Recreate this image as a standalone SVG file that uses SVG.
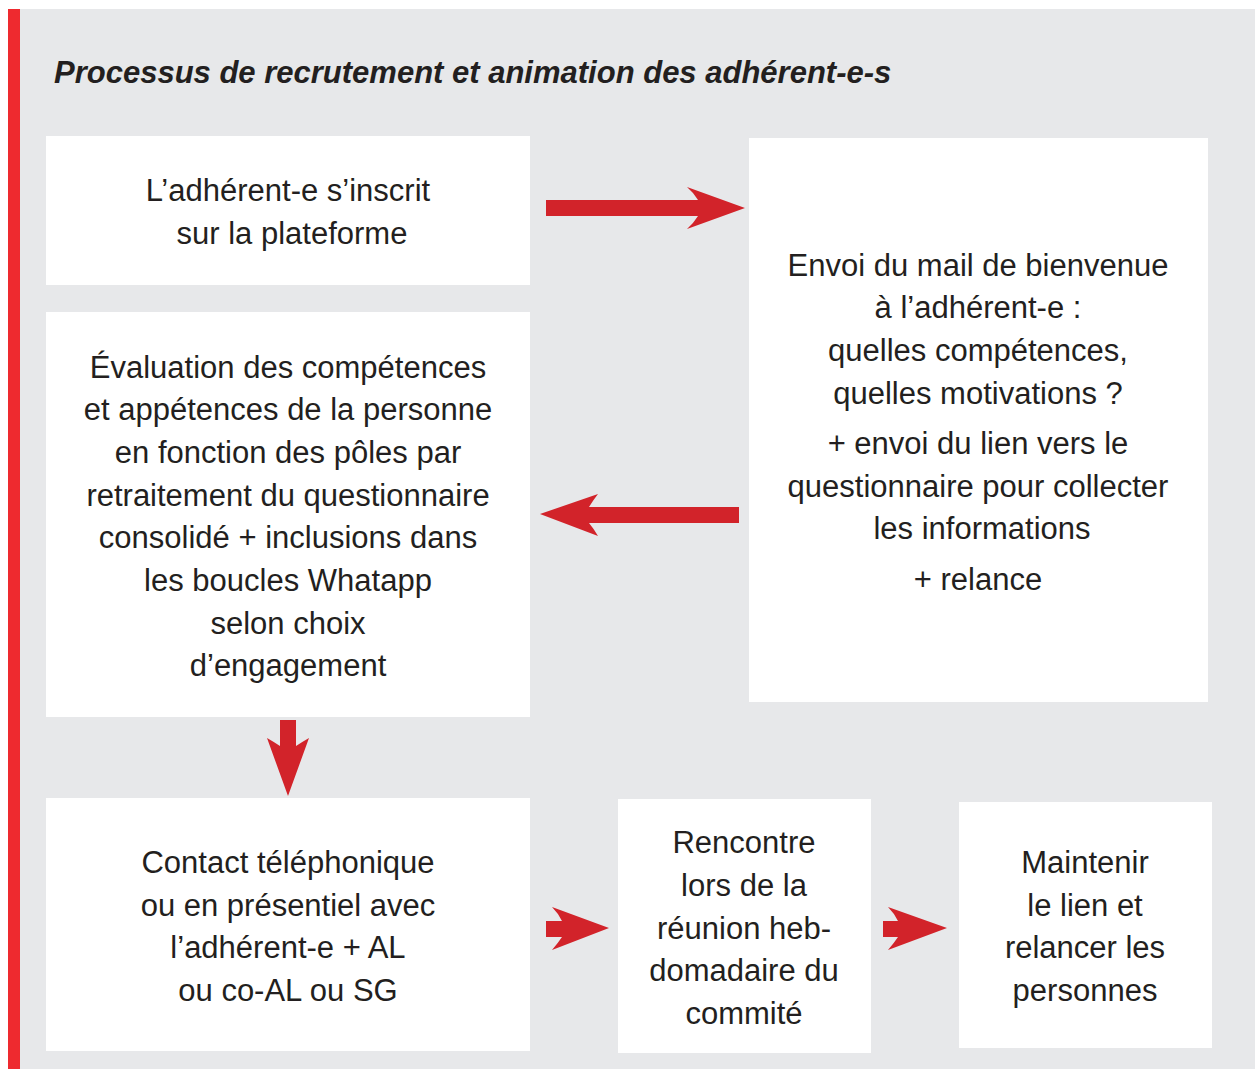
<svg xmlns="http://www.w3.org/2000/svg" width="1255" height="1069" viewBox="0 0 1255 1069">
<style>
.box{fill:#ffffff}
.t{font-family:"Liberation Sans",Arial,sans-serif;font-size:31px;fill:#231f20;text-anchor:middle}
.ttl{font-family:"Liberation Sans",Arial,sans-serif;font-size:31px;font-weight:bold;font-style:italic;fill:#231f20}
.arr{fill:#d2232a}
</style>
<rect x="8" y="9" width="1247" height="1060" fill="#e7e8ea"/>
<rect x="8" y="9" width="12" height="1060" fill="#ee2a2f"/>
<text class="ttl" x="54" y="83">Processus de recrutement et animation des adhérent-e-s</text>
<g id="n1">
<rect class="box" x="46" y="136" width="484" height="149"/>
<text class="t"><tspan x="288" y="201">L’adhérent-e s’inscrit</tspan><tspan x="292" y="244">sur la plateforme</tspan></text>
</g>
<g id="n2">
<rect class="box" x="749" y="138" width="459" height="564"/>
<text class="t"><tspan x="978" y="276">Envoi du mail de bienvenue</tspan><tspan x="978" y="318">à l’adhérent-e :</tspan><tspan x="978" y="361">quelles compétences,</tspan><tspan x="978" y="404">quelles motivations ?</tspan><tspan x="978" y="454">+ envoi du lien vers le</tspan><tspan x="978" y="497">questionnaire pour collecter</tspan><tspan x="982" y="539">les informations</tspan><tspan x="978" y="590">+ relance</tspan></text>
</g>
<g id="n3">
<rect class="box" x="46" y="312" width="484" height="405"/>
<text class="t"><tspan x="288" y="378">Évaluation des compétences</tspan><tspan x="288" y="420">et appétences de la personne</tspan><tspan x="288" y="463">en fonction des pôles par</tspan><tspan x="288" y="506">retraitement du questionnaire</tspan><tspan x="288" y="548">consolidé + inclusions dans</tspan><tspan x="288" y="591">les boucles Whatapp</tspan><tspan x="288" y="634">selon choix</tspan><tspan x="288" y="676">d’engagement</tspan></text>
</g>
<g id="n4">
<rect class="box" x="46" y="798" width="484" height="253"/>
<text class="t"><tspan x="288" y="873">Contact téléphonique</tspan><tspan x="288" y="916">ou en présentiel avec</tspan><tspan x="288" y="958">l’adhérent-e + AL</tspan><tspan x="288" y="1001">ou co-AL ou SG</tspan></text>
</g>
<g id="n5">
<rect class="box" x="618" y="799" width="253" height="254"/>
<text class="t"><tspan x="744" y="853">Rencontre</tspan><tspan x="744" y="896">lors de la</tspan><tspan x="744" y="939">réunion heb-</tspan><tspan x="744" y="981">domadaire du</tspan><tspan x="744" y="1024">commité</tspan></text>
</g>
<g id="n6">
<rect class="box" x="959" y="802" width="253" height="246"/>
<text class="t"><tspan x="1085" y="873">Maintenir</tspan><tspan x="1085" y="916">le lien et</tspan><tspan x="1085" y="958">relancer les</tspan><tspan x="1085" y="1001">personnes</tspan></text>
</g>
<g id="connectors">
<path class="arr" d="M546,200 L698,200 Q693,192 687,187 L745,208 L687,229 Q693,224 698,216 L546,216 Z"/>
<path class="arr" d="M739,507 L589,507 Q594,499 598,494 L540,514 L598,536 Q594,529 589,523 L739,523 Z"/>
<path class="arr" d="M280,720 L296,720 L296,746 Q302,742 309,738 L288,796 L267,738 Q274,742 280,746 Z"/>
<path class="arr" d="M546,921 L562,921 Q558,913 552,907 L609,928 L552,950 Q558,943 562,937 L546,937 Z"/>
<path class="arr" d="M883,921 L898,921 Q894,913 888,907 L947,928 L888,950 Q894,943 898,937 L883,937 Z"/>
</g>
</svg>
